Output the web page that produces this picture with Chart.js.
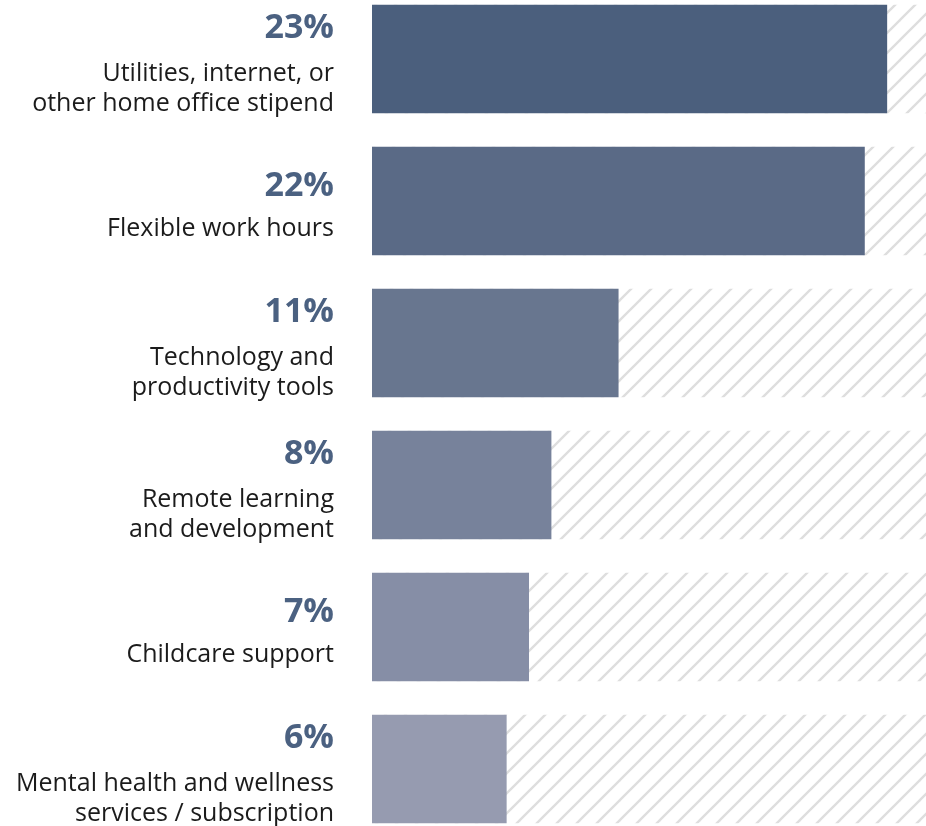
<!DOCTYPE html>
<html>
<head>
<meta charset="utf-8">
<script src="https://cdn.jsdelivr.net/npm/chart.js@4.4.1/dist/chart.umd.min.js"></script>
<style>
    html, body { margin: 0; padding: 0; background: #ffffff; }
    #wrap { position: relative; width: 926px; height: 826px; }
</style>
</head>
<body>
<div id="wrap"><canvas id="perksChart"></canvas></div>
<script>
(function () {
    'use strict';

    // ── 資料 ─────────────────────────────────────────────────
    var CATEGORIES = [
        ['Utilities, internet, or', 'other home office stipend'],
        ['Flexible work hours'],
        ['Technology and', 'productivity tools'],
        ['Remote learning', 'and development'],
        ['Childcare support'],
        ['Mental health and wellness', 'services / subscription']
    ];
    var VALUES = [23, 22, 11, 8, 7, 6];
    var VALUE_LABELS = ['23%', '22%', '11%', '8%', '7%', '6%'];
    var BAR_COLORS = ['#4b5f7d', '#5a6a86', '#68768f', '#77829b', '#868ea6', '#969bb0'];
    var AXIS_MAX = 24.75; // 背景斜線軌道的長度

    var LABEL_RIGHT = 334;
    var PCT_COLOR = '#4b6181';
    var TEXT_COLOR = '#1b1b1b';

    // ── 斜線底紋 ─────────────────────────────────────────────
    function makeHatch() {
        var size = 20;
        var c = document.createElement('canvas');
        c.width = size;
        c.height = size;
        var g = c.getContext('2d');
        g.strokeStyle = '#dedede';
        g.lineWidth = 2.4;
        g.lineCap = 'square';
        [-size, 0, size].forEach(function (off) {
            g.beginPath();
            g.moveTo(off - 2, size + 2);
            g.lineTo(off + size + 2, -2);
            g.stroke();
        });
        return g.createPattern(c, 'repeat');
    }

    // ── 左側文字（百分比 + 類別）────────────────────────────
    var sideLabels = {
        id: 'sideLabels',
        afterDatasetsDraw: function (chart) {
            var ctx = chart.ctx;
            var yScale = chart.scales.y;
            ctx.save();
            ctx.textAlign = 'right';
            ctx.textBaseline = 'alphabetic';
            CATEGORIES.forEach(function (lines, i) {
                var cy = yScale.getPixelForValue(i);
                var pctY, firstY;
                if (lines.length > 1) {
                    pctY = cy - 21;
                    firstY = cy + 22;
                } else {
                    pctY = cy - 5;
                    firstY = cy + 35;
                }
                ctx.fillStyle = PCT_COLOR;
                ctx.font = 'bold 34px "Open Sans"';
                ctx.fillText(VALUE_LABELS[i], LABEL_RIGHT, pctY);

                ctx.fillStyle = TEXT_COLOR;
                ctx.font = '25px "Open Sans"';
                lines.forEach(function (t, k) {
                    ctx.fillText(t, LABEL_RIGHT, firstY + k * 30);
                });
            });
            ctx.restore();
        }
    };

    function init() {
        var canvas = document.getElementById('perksChart');
        var ctx = canvas.getContext('2d');

        var barPoints = VALUES.map(function (v, i) { return { x: v, y: i }; });
        var trackPoints = VALUES.map(function (v, i) { return { x: AXIS_MAX, y: i }; });

        new Chart(ctx, {
            type: 'bar',
            data: {
                datasets: [{
                    data: barPoints,
                    backgroundColor: BAR_COLORS,
                    borderWidth: 0,
                    barThickness: 108,
                    grouped: false,
                    order: 1
                }, {
                    data: trackPoints,
                    backgroundColor: makeHatch(),
                    borderWidth: 0,
                    barThickness: 108,
                    grouped: false,
                    order: 2
                }]
            },
            options: {
                indexAxis: 'y',
                responsive: true,
                maintainAspectRatio: false,
                animation: false,
                layout: { padding: { left: 372, right: 0, top: 0, bottom: 0 } },
                plugins: {
                    legend: { display: false },
                    tooltip: { enabled: false }
                },
                scales: {
                    x: { type: 'linear', min: 0, max: AXIS_MAX, display: false },
                    y: {
                        type: 'linear',
                        reverse: true,
                        offset: false,
                        min: -0.4155,     // 每列間距 142px，第一列中心在 59px
                        max: 5.4014,
                        display: false
                    }
                }
            },
            plugins: [sideLabels]
        });
    }

    document.addEventListener('DOMContentLoaded', init);
})();
</script>
</body>
</html>
